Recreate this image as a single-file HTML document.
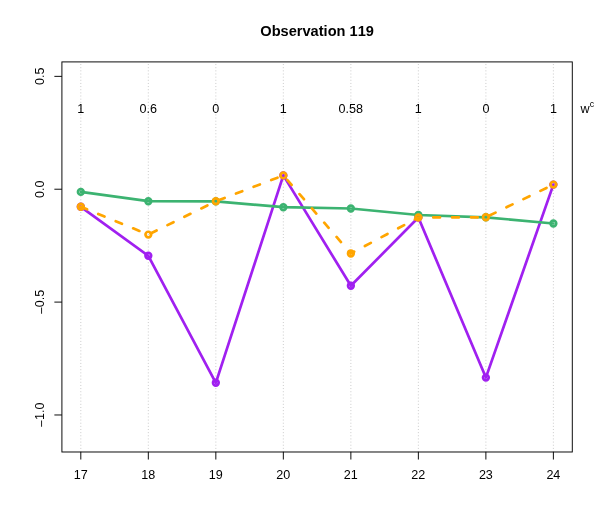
<!DOCTYPE html>
<html><head><meta charset="utf-8"><title>Observation 119</title>
<style>
html,body{margin:0;padding:0;background:#fff;}
body{width:604px;height:529px;overflow:hidden;}
svg{display:block;will-change:transform;}
text{font-family:"Liberation Sans",sans-serif;fill:#000;font-kerning:none;}
</style></head><body>
<svg width="604" height="529" viewBox="0 0 604 529">
<rect x="0" y="0" width="604" height="529" fill="#fff"/>
<g stroke="#c6c6c6" stroke-width="0.95" stroke-dasharray="0.950 2.196" fill="none">
<line x1="80.81" y1="451.99" x2="80.81" y2="61.91"/>
<line x1="148.32" y1="451.99" x2="148.32" y2="61.91"/>
<line x1="215.83" y1="451.99" x2="215.83" y2="61.91"/>
<line x1="283.34" y1="451.99" x2="283.34" y2="61.91"/>
<line x1="350.86" y1="451.99" x2="350.86" y2="61.91"/>
<line x1="418.37" y1="451.99" x2="418.37" y2="61.91"/>
<line x1="485.88" y1="451.99" x2="485.88" y2="61.91"/>
<line x1="553.39" y1="451.99" x2="553.39" y2="61.91"/>
</g>
<g fill="none" stroke-linejoin="round" stroke-linecap="round">
<polyline points="80.81,206.80 148.32,255.80 215.83,382.80 283.34,175.40 350.86,285.80 418.37,217.50 485.88,377.60 553.39,184.60" stroke="#A020F0" stroke-width="2.70"/>
<circle cx="80.81" cy="206.80" r="2.83" fill="none" stroke="#A020F0" stroke-width="2.70"/>
<circle cx="148.32" cy="255.80" r="2.83" fill="none" stroke="#A020F0" stroke-width="2.70"/>
<circle cx="215.83" cy="382.80" r="2.83" fill="none" stroke="#A020F0" stroke-width="2.70"/>
<circle cx="283.34" cy="175.40" r="2.83" fill="none" stroke="#A020F0" stroke-width="2.70"/>
<circle cx="350.86" cy="285.80" r="2.83" fill="none" stroke="#A020F0" stroke-width="2.70"/>
<circle cx="418.37" cy="217.50" r="2.83" fill="none" stroke="#A020F0" stroke-width="2.70"/>
<circle cx="485.88" cy="377.60" r="2.83" fill="none" stroke="#A020F0" stroke-width="2.70"/>
<circle cx="553.39" cy="184.60" r="2.83" fill="none" stroke="#A020F0" stroke-width="2.70"/>
<polyline points="80.81,191.90 148.32,201.20 215.83,201.40 283.34,207.20 350.86,208.50 418.37,215.00 485.88,217.30 553.39,223.50" stroke="#3CB371" stroke-width="2.70"/>
<circle cx="80.81" cy="191.90" r="2.83" fill="none" stroke="#3CB371" stroke-width="2.70"/>
<circle cx="148.32" cy="201.20" r="2.83" fill="none" stroke="#3CB371" stroke-width="2.70"/>
<circle cx="215.83" cy="201.40" r="2.83" fill="none" stroke="#3CB371" stroke-width="2.70"/>
<circle cx="283.34" cy="207.20" r="2.83" fill="none" stroke="#3CB371" stroke-width="2.70"/>
<circle cx="350.86" cy="208.50" r="2.83" fill="none" stroke="#3CB371" stroke-width="2.70"/>
<circle cx="418.37" cy="215.00" r="2.83" fill="none" stroke="#3CB371" stroke-width="2.70"/>
<circle cx="485.88" cy="217.30" r="2.83" fill="none" stroke="#3CB371" stroke-width="2.70"/>
<circle cx="553.39" cy="223.50" r="2.83" fill="none" stroke="#3CB371" stroke-width="2.70"/>
<polyline points="80.81,206.80 148.32,234.60 215.83,201.30 283.34,175.40 350.86,253.50 418.37,217.50 485.88,217.30 553.39,184.60" stroke="#FFA500" stroke-width="2.70" stroke-linecap="round" stroke-dasharray="6.737 12.137" stroke-dashoffset="0"/>
<circle cx="80.81" cy="206.80" r="2.83" fill="none" stroke="#FFA500" stroke-width="2.70"/>
<circle cx="148.32" cy="234.60" r="2.83" fill="none" stroke="#FFA500" stroke-width="2.70"/>
<circle cx="215.83" cy="201.30" r="2.83" fill="none" stroke="#FFA500" stroke-width="2.70"/>
<circle cx="283.34" cy="175.40" r="2.83" fill="none" stroke="#FFA500" stroke-width="2.70"/>
<circle cx="350.86" cy="253.50" r="2.83" fill="none" stroke="#FFA500" stroke-width="2.70"/>
<circle cx="418.37" cy="217.50" r="2.83" fill="none" stroke="#FFA500" stroke-width="2.70"/>
<circle cx="485.88" cy="217.30" r="2.83" fill="none" stroke="#FFA500" stroke-width="2.70"/>
<circle cx="553.39" cy="184.60" r="2.83" fill="none" stroke="#FFA500" stroke-width="2.70"/>
</g>
<g stroke="#000" stroke-width="0.95" fill="none">
<rect x="61.91" y="61.91" width="510.38" height="390.08"/>
<line x1="80.81" y1="451.99" x2="80.81" y2="459.54"/>
<line x1="148.32" y1="451.99" x2="148.32" y2="459.54"/>
<line x1="215.83" y1="451.99" x2="215.83" y2="459.54"/>
<line x1="283.34" y1="451.99" x2="283.34" y2="459.54"/>
<line x1="350.86" y1="451.99" x2="350.86" y2="459.54"/>
<line x1="418.37" y1="451.99" x2="418.37" y2="459.54"/>
<line x1="485.88" y1="451.99" x2="485.88" y2="459.54"/>
<line x1="553.39" y1="451.99" x2="553.39" y2="459.54"/>
<line x1="61.91" y1="76.36" x2="54.36" y2="76.36"/>
<line x1="61.91" y1="189.23" x2="54.36" y2="189.23"/>
<line x1="61.91" y1="302.10" x2="54.36" y2="302.10"/>
<line x1="61.91" y1="414.97" x2="54.36" y2="414.97"/>
</g>
<text x="80.81" y="478.50" font-size="12.58" text-anchor="middle">17</text>
<text x="148.32" y="478.50" font-size="12.58" text-anchor="middle">18</text>
<text x="215.83" y="478.50" font-size="12.58" text-anchor="middle">19</text>
<text x="283.34" y="478.50" font-size="12.58" text-anchor="middle">20</text>
<text x="350.86" y="478.50" font-size="12.58" text-anchor="middle">21</text>
<text x="418.37" y="478.50" font-size="12.58" text-anchor="middle">22</text>
<text x="485.88" y="478.50" font-size="12.58" text-anchor="middle">23</text>
<text x="553.39" y="478.50" font-size="12.58" text-anchor="middle">24</text>
<text transform="translate(44.10,76.36) rotate(-90)" font-size="12.58" text-anchor="middle">0.5</text>
<text transform="translate(44.10,189.23) rotate(-90)" font-size="12.58" text-anchor="middle">0.0</text>
<text transform="translate(44.10,302.10) rotate(-90)" font-size="12.58" text-anchor="middle"><tspan dy="1.5">−</tspan><tspan dy="-1.5">0.5</tspan></text>
<text transform="translate(44.10,414.97) rotate(-90)" font-size="12.58" text-anchor="middle"><tspan dy="1.5">−</tspan><tspan dy="-1.5">1.0</tspan></text>
<text x="80.81" y="113.20" font-size="12.58" text-anchor="middle">1</text>
<text x="148.32" y="113.20" font-size="12.58" text-anchor="middle">0.6</text>
<text x="215.83" y="113.20" font-size="12.58" text-anchor="middle">0</text>
<text x="283.34" y="113.20" font-size="12.58" text-anchor="middle">1</text>
<text x="350.86" y="113.20" font-size="12.58" text-anchor="middle">0.58</text>
<text x="418.37" y="113.20" font-size="12.58" text-anchor="middle">1</text>
<text x="485.88" y="113.20" font-size="12.58" text-anchor="middle">0</text>
<text x="553.39" y="113.20" font-size="12.58" text-anchor="middle">1</text>
<text x="580.60" y="113.20" font-size="12.58">w<tspan font-size="8.81" dy="-6.70">c</tspan></text>
<text transform="translate(317.10,36.30) scale(0.9675,1)" font-size="15.10" font-weight="bold" text-anchor="middle">Observation 119</text>
</svg></body></html>
